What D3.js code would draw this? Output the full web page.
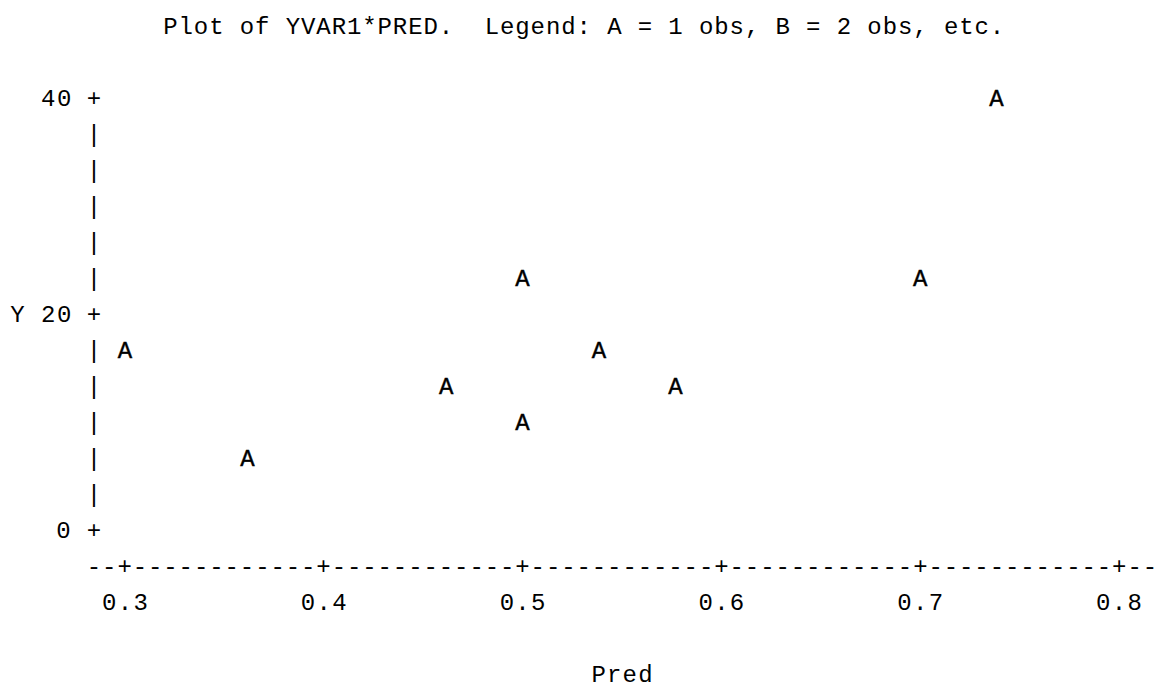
<!DOCTYPE html>
<html>
<head>
<meta charset="utf-8">
<script src="https://cdn.jsdelivr.net/npm/d3@7"></script>
<style>
  body { margin: 0; background: #fff; }
  text { font-family: "Liberation Mono", "DejaVu Sans Mono", monospace; font-size: 24px; fill: #000; white-space: pre; }
</style>
</head>
<body>
<div id="wrapper"></div>
<script>
// line printer plot data
const predValues = [0.30, 0.36, 0.46, 0.50, 0.50, 0.54, 0.58, 0.70, 0.74]
const yvarValues = [17, 7, 13, 23, 10, 17, 13, 23, 40]
const xTicks = [0.3, 0.4, 0.5, 0.6, 0.7, 0.8]
const xTickLabels = ["0.3", "0.4", "0.5", "0.6", "0.7", "0.8"]
const yTicks = [0, 20, 40]
const yTickLabels = ["0", "20", "40"]
const titleText = "Plot of YVAR1*PRED.  Legend: A = 1 obs, B = 2 obs, etc."
const xLabel = "Pred"
const yLabel = "Y"

// character grid
const dms = { width: 1173, height: 688 }
const cw = 15.29      // column width
const rh = 36         // row height
const col0 = 18       // center of column 0
const row0 = 97       // center of the top plot row (y = 40)

const colX = c => col0 + c * cw
const rowY = r => row0 + r * rh
const toCol = px => Math.round((px - col0) / cw)
const toRow = py => Math.round((py - row0) / rh)

const xScale = d3.scaleLinear().domain([0.3, 0.8]).range([colX(7), colX(72)])
const yScale = d3.scaleLinear().domain([0, 40]).range([rowY(12), rowY(0)])

const svg = d3.select("#wrapper")
  .append("svg")
  .attr("width", dms.width)
  .attr("height", dms.height)

const g = svg.append("g")

// put a string on the grid starting at a column, stretched to the grid pitch
function put(col, row, str, cls) {
  const t = g.append("text")
    .attr("class", cls)
    .attr("x", colX(col) - cw / 2)
    .attr("y", rowY(row))
    .attr("dy", "0.36em")
    .text(str)
  if (str.length > 1) {
    t.attr("textLength", str.length * cw).attr("lengthAdjust", "spacing")
  }
  return t
}

// title
put(10, -2, titleText, "title")

// y axis
const axisCol = 5
const topRow = toRow(yScale(40))
const bottomRow = toRow(yScale(0))
const tickRows = yTicks.map(t => toRow(yScale(t)))
d3.range(topRow, bottomRow + 1).forEach(r => {
  put(axisCol, r, tickRows.includes(r) ? "+" : "|", "y-axis")
})
yTicks.forEach((t, i) => {
  const lab = yTickLabels[i]
  put(axisCol - 1 - lab.length, toRow(yScale(t)), lab, "y-tick")
})
put(0, toRow(yScale(20)), yLabel, "y-label")

// x axis
const axisRow = bottomRow + 1
const tickCols = xTicks.map(t => toCol(xScale(t)))
const axisStr = d3.range(axisCol, tickCols[tickCols.length - 1] + 3)
  .map(c => tickCols.includes(c) ? "+" : "-")
  .join("")
put(axisCol, axisRow, axisStr, "x-axis")
xTicks.forEach((t, i) => {
  const lab = xTickLabels[i]
  put(toCol(xScale(t)) - Math.floor(lab.length / 2), axisRow + 1, lab, "x-tick")
})
put(38, axisRow + 3, xLabel, "x-label")

// points
const points = predValues.map((p, i) => ({ c: toCol(xScale(p)), r: toRow(yScale(yvarValues[i])) }))
g.append("g").attr("class", "points")
  .selectAll("text")
  .data(points)
  .join("text")
  .attr("x", d => colX(d.c))
  .attr("y", d => rowY(d.r))
  .attr("dy", "0.36em")
  .attr("text-anchor", "middle")
  .attr("stroke", "#000")
  .attr("stroke-width", 0.4)
  .text("A")
</script>
</body>
</html>
